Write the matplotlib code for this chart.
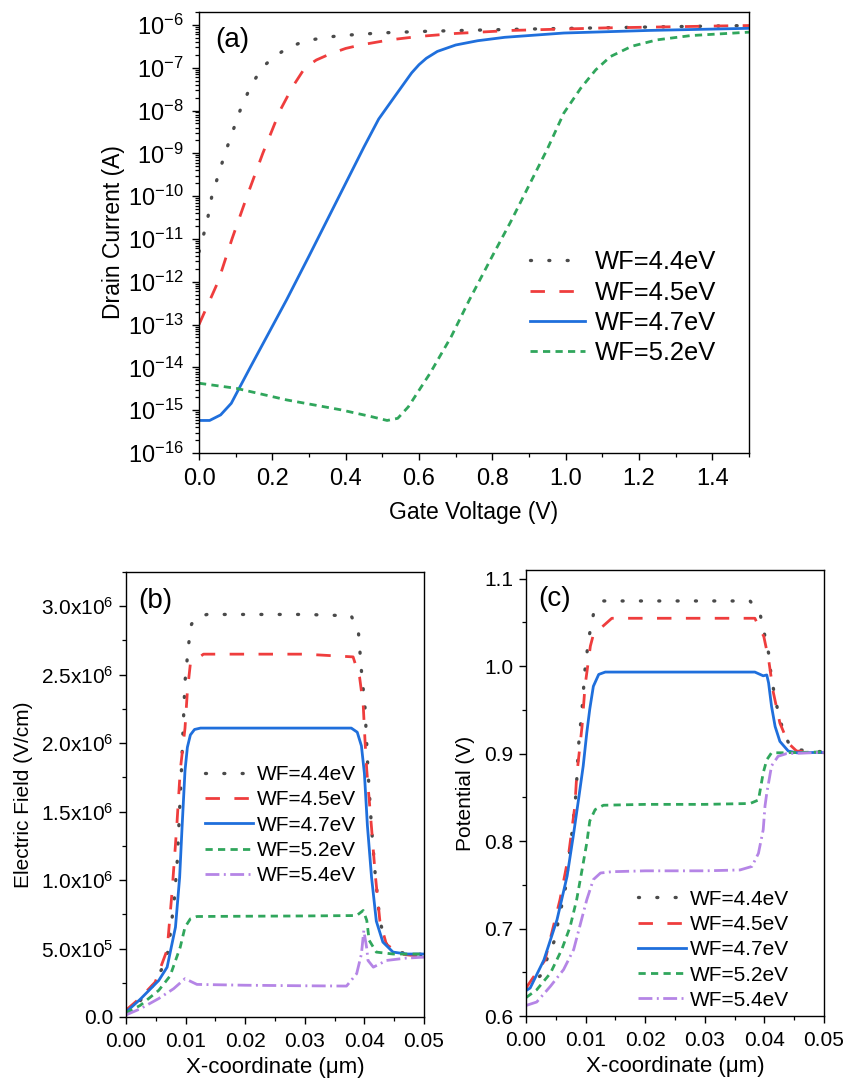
import numpy as np
import matplotlib
matplotlib.use("Agg")
import matplotlib.pyplot as plt
from matplotlib.ticker import LogLocator, LogFormatterMathtext, MultipleLocator, FixedLocator, FixedFormatter, NullFormatter

plt.rcParams['font.family'] = ['Liberation Sans', 'DejaVu Sans']
plt.rcParams['mathtext.fontset'] = 'custom'
plt.rcParams['mathtext.rm'] = 'Liberation Sans'
plt.rcParams['mathtext.it'] = 'Liberation Sans:italic'
plt.rcParams['mathtext.bf'] = 'Liberation Sans:bold'

# ---------------- data: panel (a) transfer curves (log10 of drain current) ----------------
labels_a = ["WF=4.4eV", "WF=4.5eV", "WF=4.7eV", "WF=5.2eV"]
vg_44 = [0, 0.022, 0.035, 0.071, 0.112, 0.14, 0.172, 0.2, 0.234, 0.27, 0.3, 0.34, 0.385, 0.44, 0.49, 0.55, 0.62, 0.718, 0.88, 1.018, 1.226, 1.457, 1.5]
log_id_44 = [-11.3, -10.6, -10.0, -9.0, -8.0, -7.45, -7.0, -6.78, -6.58, -6.44, -6.36, -6.3, -6.25, -6.22, -6.19, -6.17, -6.15, -6.13, -6.1, -6.08, -6.05, -6.02, -6.015]
vg_45 = [0, 0.052, 0.09, 0.131, 0.174, 0.221, 0.255, 0.289, 0.32, 0.357, 0.4, 0.44, 0.52, 0.6, 0.7, 0.85, 1.11, 1.455, 1.5]
log_id_45 = [-13.0, -12.0, -11.0, -10.0, -9.0, -8.0, -7.45, -7.0, -6.82, -6.68, -6.55, -6.47, -6.35, -6.27, -6.2, -6.13, -6.07, -6.02, -6.015]
vg_47 = [0, 0.029, 0.059, 0.088, 0.107, 0.141, 0.19, 0.239, 0.3, 0.35, 0.4, 0.45, 0.49, 0.534, 0.58, 0.6, 0.62, 0.65, 0.7, 0.76, 0.834, 0.995, 1.226, 1.5]
log_id_47 = [-15.24, -15.24, -15.11, -14.84, -14.53, -13.98, -13.2, -12.42, -11.4, -10.55, -9.7, -8.85, -8.2, -7.67, -7.12, -6.93, -6.78, -6.62, -6.47, -6.37, -6.29, -6.19, -6.13, -6.08]
vg_52 = [0, 0.102, 0.239, 0.386, 0.47, 0.513, 0.542, 0.571, 0.63, 0.688, 0.737, 0.8, 0.85, 0.9, 0.95, 0.995, 1.041, 1.082, 1.122, 1.18, 1.249, 1.341, 1.5]
log_id_52 = [-14.37, -14.49, -14.76, -14.99, -15.15, -15.24, -15.19, -14.92, -14.14, -13.28, -12.43, -11.4, -10.6, -9.75, -8.9, -8.06, -7.48, -7.05, -6.74, -6.5, -6.35, -6.25, -6.17]

# ---------------- data: panel (b) electric field (1e6 V/cm) ----------------
labels_bc = ["WF=4.4eV", "WF=4.5eV", "WF=4.7eV", "WF=5.2eV", "WF=5.4eV"]
xb_44 = [0, 0.0024, 0.0045, 0.006, 0.0071, 0.0081, 0.0086, 0.0093, 0.0099, 0.0105, 0.011, 0.012, 0.0136, 0.02, 0.03, 0.0378, 0.039, 0.0395, 0.0401, 0.0406, 0.0412, 0.0418, 0.0426, 0.0437, 0.046, 0.0493, 0.05]
ef_44 = [0.036, 0.12, 0.23, 0.35, 0.486, 0.86, 1.14, 1.8, 2.45, 2.72, 2.87, 2.92, 2.94, 2.94, 2.94, 2.93, 2.81, 2.53, 2.26, 1.8, 1.38, 1.05, 0.7, 0.53, 0.47, 0.46, 0.45]
xb_45 = [0, 0.0024, 0.0049, 0.0069, 0.0077, 0.0085, 0.0091, 0.0099, 0.0103, 0.0108, 0.013, 0.02, 0.03, 0.0381, 0.0392, 0.0398, 0.0401, 0.0404, 0.0412, 0.0418, 0.0426, 0.0437, 0.046, 0.05]
ef_45 = [0.05, 0.14, 0.255, 0.49, 0.9, 1.38, 1.8, 2.11, 2.38, 2.58, 2.65, 2.65, 2.65, 2.63, 2.48, 2.28, 2.02, 1.8, 1.38, 1.05, 0.7, 0.53, 0.46, 0.44]
xb_47 = [0, 0.0024, 0.0055, 0.0069, 0.0083, 0.009, 0.0094, 0.0099, 0.0103, 0.0108, 0.0115, 0.0125, 0.02, 0.03, 0.0378, 0.0388, 0.0395, 0.04, 0.0405, 0.0412, 0.042, 0.0431, 0.0448, 0.0471, 0.05]
ef_47 = [0.036, 0.13, 0.267, 0.364, 0.656, 1.02, 1.38, 1.8, 1.97, 2.06, 2.1, 2.11, 2.11, 2.11, 2.11, 2.08, 1.98, 1.78, 1.4, 1.02, 0.7, 0.547, 0.474, 0.46, 0.46]
xb_52 = [0, 0.0024, 0.0055, 0.0074, 0.0091, 0.0099, 0.0108, 0.0119, 0.02, 0.03, 0.0387, 0.0398, 0.0404, 0.0408, 0.042, 0.0448, 0.05]
ef_52 = [0.03, 0.085, 0.195, 0.3, 0.51, 0.656, 0.717, 0.734, 0.736, 0.738, 0.741, 0.778, 0.705, 0.56, 0.474, 0.46, 0.46]
xb_54 = [0, 0.0024, 0.0055, 0.008, 0.0099, 0.0119, 0.02, 0.03, 0.037, 0.0387, 0.0395, 0.0399, 0.0404, 0.0406, 0.0415, 0.0437, 0.047, 0.05]
ef_54 = [0.015, 0.06, 0.135, 0.207, 0.28, 0.238, 0.232, 0.228, 0.226, 0.316, 0.46, 0.632, 0.5, 0.413, 0.364, 0.413, 0.43, 0.437]

# ---------------- data: panel (c) potential (V) ----------------
xc_44 = [0, 0.0024, 0.0047, 0.0066, 0.0077, 0.0084, 0.0088, 0.0094, 0.0099, 0.0105, 0.0113, 0.013, 0.02, 0.03, 0.0376, 0.0393, 0.0401, 0.0407, 0.0412, 0.0421, 0.0432, 0.0446, 0.05]
pot_44 = [0.631, 0.646, 0.685, 0.746, 0.809, 0.855, 0.908, 0.951, 0.996, 1.031, 1.059, 1.0746, 1.0746, 1.0746, 1.0746, 1.059, 1.034, 1.015, 0.985, 0.954, 0.924, 0.905, 0.902]
xc_45 = [0, 0.0032, 0.0057, 0.0071, 0.0082, 0.0085, 0.0094, 0.0099, 0.0108, 0.0113, 0.0144, 0.02, 0.03, 0.0384, 0.039, 0.0399, 0.0407, 0.0415, 0.0426, 0.044, 0.0454, 0.05]
pot_45 = [0.632, 0.664, 0.733, 0.782, 0.84, 0.874, 0.931, 0.977, 1.023, 1.036, 1.0548, 1.0548, 1.0548, 1.0548, 1.046, 1.034, 1.008, 0.97, 0.935, 0.912, 0.903, 0.901]
xc_47 = [0, 0.0007, 0.003, 0.0052, 0.0069, 0.008, 0.0088, 0.0096, 0.0102, 0.0107, 0.0113, 0.0122, 0.0133, 0.02, 0.03, 0.0384, 0.0398, 0.0404, 0.0407, 0.0412, 0.0418, 0.0426, 0.044, 0.0454, 0.05]
pot_47 = [0.629, 0.632, 0.664, 0.71, 0.76, 0.809, 0.847, 0.886, 0.924, 0.951, 0.977, 0.9906, 0.9933, 0.9933, 0.9933, 0.9933, 0.989, 0.990, 0.981, 0.954, 0.931, 0.914, 0.903, 0.901, 0.9015]
xc_52 = [0, 0.0018, 0.0041, 0.006, 0.0074, 0.0085, 0.0094, 0.0102, 0.0107, 0.0116, 0.013, 0.02, 0.03, 0.0376, 0.039, 0.0398, 0.0404, 0.0412, 0.0432, 0.05]
pot_52 = [0.621, 0.63, 0.649, 0.676, 0.702, 0.733, 0.767, 0.798, 0.823, 0.836, 0.841, 0.842, 0.842, 0.843, 0.847, 0.878, 0.893, 0.901, 0.901, 0.902]
xc_54 = [0, 0.0018, 0.0041, 0.0063, 0.008, 0.009, 0.0102, 0.0113, 0.0125, 0.0144, 0.02, 0.03, 0.0359, 0.0379, 0.039, 0.0398, 0.0401, 0.0404, 0.0412, 0.0423, 0.0437, 0.05]
pot_54 = [0.612, 0.616, 0.634, 0.653, 0.676, 0.702, 0.733, 0.756, 0.7635, 0.765, 0.766, 0.766, 0.767, 0.771, 0.786, 0.813, 0.84, 0.855, 0.886, 0.897, 0.9, 0.9015]

# tick labels
xticks_a = [0.0, 0.2, 0.4, 0.6, 0.8, 1.0, 1.2, 1.4]
yticks_b = [0.0, 0.5e6, 1.0e6, 1.5e6, 2.0e6, 2.5e6, 3.0e6]
ytick_labels_b = ["0.0", r"$\mathregular{5.0x10^{5}}$", r"$\mathregular{1.0x10^{6}}$", r"$\mathregular{1.5x10^{6}}$",
                  r"$\mathregular{2.0x10^{6}}$", r"$\mathregular{2.5x10^{6}}$", r"$\mathregular{3.0x10^{6}}$"]
xticks_bc = [0.00, 0.01, 0.02, 0.03, 0.04, 0.05]
yticks_c = [0.6, 0.7, 0.8, 0.9, 1.0, 1.1]

# ---------------- styles ----------------
colors = ["#4a4a4a", "#ef3d3d", "#1f6fdc", "#30a65c", "#b585e6"]
styles = [(0, (0.3, 5.2)), (0, (5.2, 5.2)), "-", (0, (2.6, 1.9)), (0, (5.0, 1.6, 0.7, 1.6))]
widths = [2.4, 2.0, 2.0, 2.0, 2.0]

fig = plt.figure(figsize=(8.56, 10.79), dpi=100)
W, H = 856.0, 1079.0
def axes_px(l, t, r, b):
    return fig.add_axes([l / W, 1 - b / H, (r - l) / W, (b - t) / H])

ax_a = axes_px(199, 12, 749, 453)
ax_b = axes_px(126, 572, 424, 1017)
ax_c = axes_px(526, 570, 824, 1016)

def style_axes(ax, fs, xpad, ypad):
    for s in ax.spines.values():
        s.set_linewidth(1.0)
    ax.tick_params(which='major', direction='out', length=5, width=1.0, labelsize=fs, top=False, right=False)
    ax.tick_params(which='minor', direction='out', length=3, width=0.9, top=False, right=False)
    ax.tick_params(axis='x', which='major', pad=xpad)
    ax.tick_params(axis='y', which='major', pad=ypad)

def plot_series(ax, series, labels, scale=1.0):
    for i, (x, y) in enumerate(series):
        ax.plot(x, np.array(y) * scale, color=colors[i], ls=styles[i], lw=widths[i], label=labels[i],
                dash_capstyle='round' if i == 0 else 'butt')

# panel (a)
ax_a.set_yscale('log')
for i, (v, lg) in enumerate([(vg_44, log_id_44), (vg_45, log_id_45), (vg_47, log_id_47), (vg_52, log_id_52)]):
    ax_a.plot(v, 10.0 ** np.array(lg), color=colors[i], ls=styles[i], lw=widths[i],
              label=labels_a[i], dash_capstyle='round' if i == 0 else 'butt')
ax_a.set_xlim(0, 1.5)
ax_a.set_ylim(1e-16, 2e-6)
ax_a.yaxis.set_major_locator(LogLocator(base=10, numticks=30))
ax_a.yaxis.set_major_formatter(LogFormatterMathtext())
ax_a.yaxis.set_minor_locator(LogLocator(base=10, subs=np.arange(2, 10), numticks=30))
ax_a.yaxis.set_minor_formatter(NullFormatter())
ax_a.xaxis.set_major_locator(FixedLocator(xticks_a))
ax_a.xaxis.set_major_formatter(FixedFormatter([f"{t:.1f}" for t in xticks_a]))
ax_a.xaxis.set_minor_locator(MultipleLocator(0.1))
style_axes(ax_a, 17, 6, 6)
ax_a.set_xlabel("Gate Voltage (V)", fontsize=16.5, labelpad=8)
ax_a.set_ylabel("Drain Current (A)", fontsize=16.5, labelpad=2)
ax_a.text(0.03, 0.965, "(a)", transform=ax_a.transAxes, fontsize=20, va='top', ha='left')
ax_a.legend(loc='upper left', bbox_to_anchor=(0.602, 0.46), frameon=False, fontsize=18.4,
            handlelength=2.15, handletextpad=0.4, labelspacing=0.25, borderaxespad=0, borderpad=0)

# panel (b)
plot_series(ax_b, [(xb_44, ef_44), (xb_45, ef_45), (xb_47, ef_47), (xb_52, ef_52), (xb_54, ef_54)], labels_bc, 1e6)
ax_b.set_xlim(0, 0.05)
ax_b.set_ylim(0, 3.25e6)
ax_b.yaxis.set_major_locator(FixedLocator(yticks_b))
ax_b.yaxis.set_major_formatter(FixedFormatter(ytick_labels_b))
ax_b.yaxis.set_minor_locator(MultipleLocator(0.25e6))
ax_b.xaxis.set_major_locator(FixedLocator(xticks_bc))
ax_b.xaxis.set_major_formatter(FixedFormatter([f"{t:.2f}" for t in xticks_bc]))
ax_b.xaxis.set_minor_locator(MultipleLocator(0.005))
style_axes(ax_b, 15, 6, 4)
ax_b.set_xlabel("X-coordinate (\u03bcm)", fontsize=16, labelpad=4)
ax_b.set_ylabel("Electric Field (V/cm)", fontsize=15, labelpad=6)
ax_b.text(0.04, 0.965, "(b)", transform=ax_b.transAxes, fontsize=20, va='top', ha='left')
ax_b.legend(loc='upper left', bbox_to_anchor=(0.265, 0.566), frameon=False, fontsize=15,
            handlelength=2.3, handletextpad=0.2, labelspacing=0.3, borderaxespad=0, borderpad=0)

# panel (c)
plot_series(ax_c, [(xc_44, pot_44), (xc_45, pot_45), (xc_47, pot_47), (xc_52, pot_52), (xc_54, pot_54)], labels_bc)
ax_c.set_xlim(0, 0.05)
ax_c.set_ylim(0.6, 1.11)
ax_c.yaxis.set_major_locator(FixedLocator(yticks_c))
ax_c.yaxis.set_major_formatter(FixedFormatter([f"{t:.1f}" for t in yticks_c]))
ax_c.yaxis.set_minor_locator(MultipleLocator(0.05))
ax_c.xaxis.set_major_locator(FixedLocator(xticks_bc))
ax_c.xaxis.set_major_formatter(FixedFormatter([f"{t:.2f}" for t in xticks_bc]))
ax_c.xaxis.set_minor_locator(MultipleLocator(0.005))
style_axes(ax_c, 15, 6, 4)
ax_c.set_xlabel("X-coordinate (\u03bcm)", fontsize=16, labelpad=4)
ax_c.set_ylabel("Potential (V)", fontsize=15, labelpad=7)
ax_c.text(0.04, 0.965, "(c)", transform=ax_c.transAxes, fontsize=20, va='top', ha='left')
ax_c.legend(loc='upper left', bbox_to_anchor=(0.375, 0.283), frameon=False, fontsize=15,
            handlelength=2.3, handletextpad=0.2, labelspacing=0.3, borderaxespad=0, borderpad=0)

fig.savefig("out.png", dpi=100)
